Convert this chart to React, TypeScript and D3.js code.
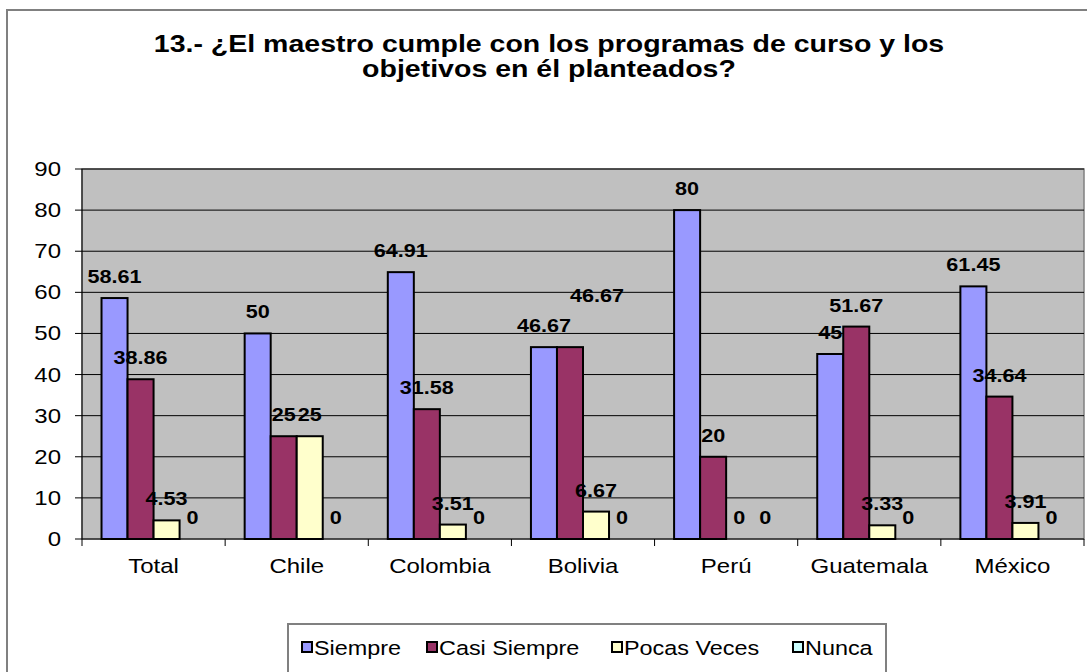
import React from "react";
import * as d3 from "d3";

const categories = ["Total", "Chile", "Colombia", "Bolivia", "Perú", "Guatemala", "México"];
const seriesNames = ["Siempre", "Casi Siempre", "Pocas Veces", "Nunca"];
const siempre = [58.61, 50, 64.91, 46.67, 80, 45, 61.45];
const casiSiempre = [38.86, 25, 31.58, 46.67, 20, 51.67, 34.64];
const pocasVeces = [4.53, 25, 3.51, 6.67, 0, 3.33, 3.91];
const nunca = [0, 0, 0, 0, 0, 0, 0];
const seriesColors = ["#9999FF", "#993366", "#FFFFCC", "#CCFFFF"];
const yTicks = [0, 10, 20, 30, 40, 50, 60, 70, 80, 90];
const titleLines = [
  "13.- ¿El maestro cumple con los programas de curso y los",
  "objetivos en él planteados?",
];

const W = 1087;
const H = 672;
const plot = { left: 82, right: 1084, top: 169, bottom: 539 };
const FONT = "Arial, 'Liberation Sans', sans-serif";
const SX = 1.2;

function T({ x, y, anchor = "start", size, bold = false, sx = SX, children }: any) {
  return (
    <text
      transform={`translate(${x},${y}) scale(${sx},1)`}
      textAnchor={anchor}
      fontSize={size}
      fontWeight={bold ? "bold" : "normal"}
      fill="#000"
    >
      {children}
    </text>
  );
}

export default function App() {
  const series = [siempre, casiSiempre, pocasVeces, nunca];
  const x0 = d3.scaleBand().domain(categories).range([plot.left, plot.right]).paddingInner(0).paddingOuter(0);
  const bw = x0.bandwidth() / 5.5;
  const groupOffset = (x0.bandwidth() - bw * 4) / 2;
  const y = d3.scaleLinear().domain([0, 90]).range([plot.bottom, plot.top]);

  const legendX = [302, 427, 612, 793];

  // data labels with simple collision nudging (like Excel's auto placement)
  const labels: { x: number; y: number; text: string; key: string }[] = [];
  categories.forEach((c, ci) => {
    const placed: { x: number; y: number; w: number }[] = [];
    series.forEach((s, si) => {
      const v = s[ci];
      const text = String(v);
      const bx = (x0(c) as number) + groupOffset + si * bw;
      let lx = bx + bw / 2;
      let ly = y(v) - 15;
      const w = text.length * 10.5 * SX;
      for (const p of placed) {
        if (Math.abs(p.y - ly) < 12 && Math.abs(p.x - lx) < (p.w + w) / 2 - 4) {
          ly = p.y - 30;
          lx = lx + 27;
        }
      }
      placed.push({ x: lx, y: ly, w });
      labels.push({ x: lx, y: ly, text, key: `${ci}-${si}` });
    });
  });

  return (
    <svg width={W} height={H} style={{ position: "absolute", left: 0, top: 0, background: "#fff" }} fontFamily={FONT}>
      <rect x={7} y={10} width={1200} height={800} fill="#fff" stroke="#808080" strokeWidth={2} />
      {titleLines.map((t, i) => (
        <T key={i} x={549} y={52 + i * 25} anchor="middle" size={23} bold sx={1.24}>
          {t}
        </T>
      ))}
      <rect x={plot.left} y={plot.top} width={plot.right - plot.left} height={plot.bottom - plot.top} fill="#C0C0C0" stroke="#808080" strokeWidth={1.5} />
      {yTicks.map((t) => (
        <g key={t}>
          {t > 0 && <line x1={plot.left} x2={plot.right} y1={y(t)} y2={y(t)} stroke="#000" strokeWidth={1} />}
          <line x1={plot.left - 7} x2={plot.left} y1={y(t)} y2={y(t)} stroke="#000" strokeWidth={1} />
          <T x={61} y={y(t) + 7} anchor="end" size={20}>{t}</T>
        </g>
      ))}
      {categories.map((c, ci) => (
        <g key={c}>
          {series.map((s, si) => {
            const v = s[ci];
            const bx = (x0(c) as number) + groupOffset + si * bw;
            return v > 0 ? (
              <rect key={si} x={bx} y={y(v)} width={bw} height={y(0) - y(v)} fill={seriesColors[si]} stroke="#000" strokeWidth={2} />
            ) : null;
          })}
          <T x={(x0(c) as number) + x0.bandwidth() / 2} y={573} anchor="middle" size={20}>{c}</T>
        </g>
      ))}
      {labels.map((l) => (
        <T key={l.key} x={l.x} y={l.y} anchor="middle" size={18} bold>{l.text}</T>
      ))}
      <line x1={plot.left} x2={plot.left} y1={plot.top} y2={plot.bottom} stroke="#000" strokeWidth={1} />
      <line x1={plot.left} x2={plot.right} y1={plot.bottom} y2={plot.bottom} stroke="#000" strokeWidth={1} />
      {categories.map((c) => (
        <line key={c} x1={x0(c) as number} x2={x0(c) as number} y1={plot.bottom} y2={plot.bottom + 7} stroke="#000" strokeWidth={1} />
      ))}
      <line x1={plot.right} x2={plot.right} y1={plot.bottom} y2={plot.bottom + 7} stroke="#000" strokeWidth={1} />
      <rect x={288} y={624} width={598} height={80} fill="#fff" stroke="#808080" strokeWidth={2} />
      {seriesNames.map((n, i) => (
        <g key={n}>
          <rect x={legendX[i]} y={642} width={10} height={10} fill={seriesColors[i]} stroke="#000" strokeWidth={2} />
          <T x={legendX[i] + 12} y={655} size={19.5}>{n}</T>
        </g>
      ))}
    </svg>
  );
}
